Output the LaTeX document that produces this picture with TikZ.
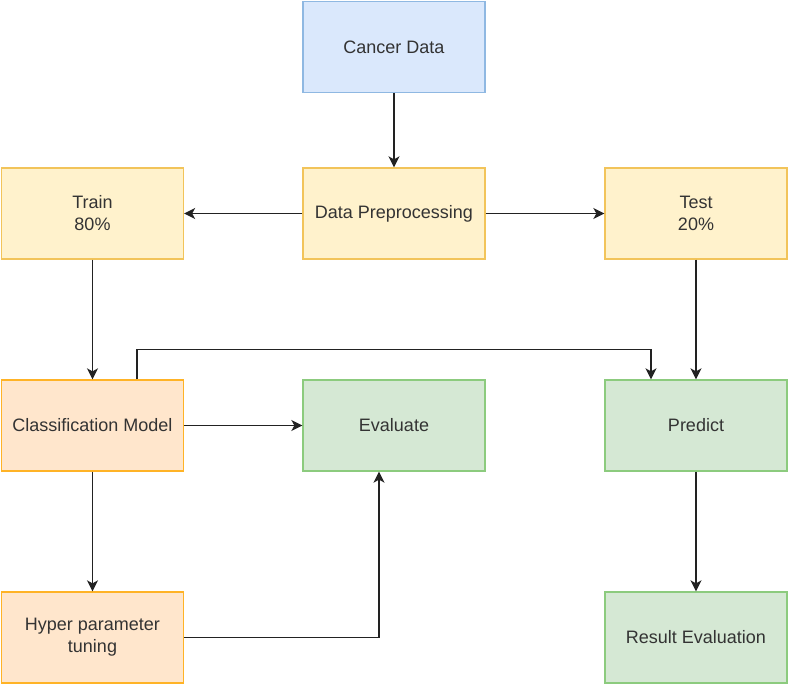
\documentclass[tikz,border=0pt]{standalone}
\usepackage{fontspec}
\setmainfont{Liberation Sans}
\usetikzlibrary{arrows.meta}
\definecolor{bfill}{HTML}{DAE8FC}\definecolor{bdraw}{HTML}{8FB8E2}
\definecolor{yfill}{HTML}{FFF2CC}\definecolor{ydraw}{HTML}{F2C45A}
\definecolor{ofill}{HTML}{FFE6CC}\definecolor{odraw}{HTML}{FFB326}
\definecolor{gfill}{HTML}{D5E8D4}\definecolor{gdraw}{HTML}{8CCB7E}
\definecolor{txt}{HTML}{333333}
\definecolor{lnc}{HTML}{222222}
\tikzset{
  box/.style={rectangle, minimum width=182pt, minimum height=91pt, line width=1.3pt, inner sep=2pt,
    align=center, text=txt, font=\fontsize{18}{22}\selectfont},
  bluebox/.style={box, fill=bfill, draw=bdraw},
  yelbox/.style={box, fill=yfill, draw=ydraw},
  orabox/.style={box, fill=ofill, draw=odraw},
  grebox/.style={box, fill=gfill, draw=gdraw},
  arr/.style={draw=lnc, line width=1.6pt, -{Stealth[length=11pt,width=11pt,inset=3pt]}}
}
\begin{document}
\begin{tikzpicture}[x=1pt,y=-1pt]
\useasboundingbox (0,0) rectangle (790,686);
\node[bluebox] (cancer) at (394,47) {Cancer Data};
\node[yelbox] (train) at (92.5,213.5) {Train\\80\%};
\node[yelbox] (prep) at (394,213.5) {Data Preprocessing};
\node[yelbox] (test) at (696,213.5) {Test\\20\%};
\node[orabox] (class) at (92.5,425.5) {Classification Model};
\node[grebox] (eval) at (394,425.5) {Evaluate};
\node[grebox] (pred) at (696,425.5) {Predict};
\node[orabox] (hyper) at (92.5,637.5) {Hyper parameter\\tuning};
\node[grebox] (result) at (696,637.5) {Result Evaluation};
\draw[arr] (cancer) -- (prep);
\draw[arr] (prep) -- (train);
\draw[arr] (prep) -- (test);
\draw[arr] (train) -- (class);
\draw[arr] (test) -- (pred);
\draw[arr] (class) -- (eval);
\draw[arr] (class) -- (hyper);
\draw[arr] (pred) -- (result);
\draw[arr] ([xshift=44.5pt]class.north) -- ++(0,-30) -| ([xshift=-45pt]pred.north);
\draw[arr] (hyper.east) -| ([xshift=-15pt]eval.south);
\end{tikzpicture}
\end{document}
